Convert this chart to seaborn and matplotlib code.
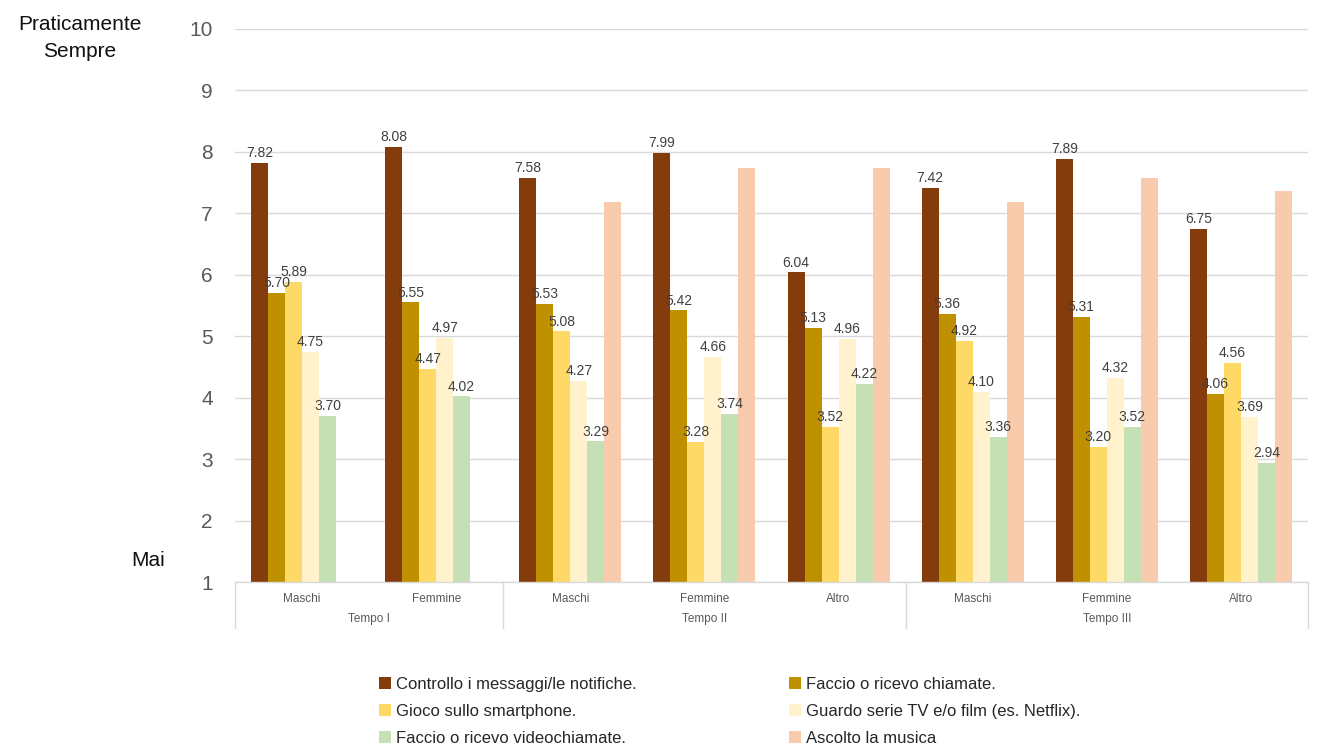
import numpy as np
import pandas as pd
import matplotlib
matplotlib.use("Agg")
import matplotlib.pyplot as plt
import matplotlib.transforms as mtransforms
from matplotlib import font_manager
import seaborn as sns

# ---- data ----
groups = ["Tempo I", "Tempo I", "Tempo II", "Tempo II", "Tempo II", "Tempo III", "Tempo III", "Tempo III"]
subgroups = ["Maschi", "Femmine", "Maschi", "Femmine", "Altro", "Maschi", "Femmine", "Altro"]
series = [
    "Controllo i messaggi/le notifiche.",
    "Faccio o ricevo chiamate.",
    "Gioco sullo smartphone.",
    "Guardo serie TV e/o film (es. Netflix).",
    "Faccio o ricevo videochiamate.",
    "Ascolto la musica",
]
controllo = [7.82, 8.08, 7.58, 7.99, 6.04, 7.42, 7.89, 6.75]
chiamate = [5.70, 5.55, 5.53, 5.42, 5.13, 5.36, 5.31, 4.06]
gioco = [5.89, 4.47, 5.08, 3.28, 3.52, 4.92, 3.20, 4.56]
guardo = [4.75, 4.97, 4.27, 4.66, 4.96, 4.10, 4.32, 3.69]
video = [3.70, 4.02, 3.29, 3.74, 4.22, 3.36, 3.52, 2.94]
musica = [np.nan, np.nan, 7.18, 7.74, 7.74, 7.18, 7.57, 7.36]
colors = ["#843C0C", "#BF9000", "#FFD966", "#FFF2CC", "#C5E0B4", "#F8CBAD"]

values = [controllo, chiamate, gioco, guardo, video, musica]
cat_keys = [f"{s}|{g}" for s, g in zip(subgroups, groups)]
rows = []
for name, vals in zip(series, values):
    for k, v in zip(cat_keys, vals):
        rows.append({"cat": k, "serie": name, "val": v})
df = pd.DataFrame(rows)

# ---- style ----
sns.set_style("white")
avail = {f.name for f in font_manager.fontManager.ttflist}
base = "Liberation Sans" if "Liberation Sans" in avail else "DejaVu Sans"
narrow = "Liberation Sans Narrow" if "Liberation Sans Narrow" in avail else base
plt.rcParams["font.family"] = [base, "DejaVu Sans"]

W, H = 1328, 754
fig = plt.figure(figsize=(W / 100, H / 100), dpi=100)
ax_left, ax_right, ax_top, ax_bot = 235, 1308, 29, 582
ax = fig.add_axes([ax_left / W, 1 - ax_bot / H, (ax_right - ax_left) / W, (ax_bot - ax_top) / H])

sns.barplot(data=df, x="cat", y="val", hue="serie", order=cat_keys, hue_order=series,
            palette=colors, width=0.76, linewidth=0, saturation=1, errorbar=None, ax=ax)

ax.set_ylim(1, 10)
ax.set_xlim(-0.5, len(cat_keys) - 0.5)
ax.set_yticks(range(1, 11))
ax.yaxis.grid(True, color="#d9d9d9", linewidth=1)
ax.set_axisbelow(True)
for s in ["left", "right", "top"]:
    ax.spines[s].set_visible(False)
ax.spines["bottom"].set_color("#d9d9d9")
ax.spines["bottom"].set_linewidth(1)
ax.tick_params(axis="y", length=0, pad=16, labelsize=15, labelcolor="#595959")
ax.tick_params(axis="x", length=0, pad=8, labelsize=8.5, labelcolor="#595959")
ax.set_xticks(range(len(cat_keys)))
ax.set_xticklabels(subgroups, fontfamily=narrow)
ax.set_xlabel("")
ax.set_ylabel("")

# bar labels (no labels for music)
for i, cont in enumerate(ax.containers[:5]):
    ax.bar_label(cont, fmt="%.2f", padding=2, fontsize=10, color="#404040")

# group labels and separators
trans = mtransforms.blended_transform_factory(ax.transData, ax.transAxes)
bounds = []
start = 0
for i in range(1, len(groups) + 1):
    if i == len(groups) or groups[i] != groups[i - 1]:
        bounds.append((start, i - 1, groups[start]))
        start = i
sep_y = -(628 - 582) / (582 - 29)
for a, b, name in bounds:
    ax.text((a + b) / 2, -(619 - 582) / (582 - 29), name, transform=trans, ha="center", va="center",
            fontsize=8.5, color="#595959", fontfamily=narrow)
edges = [bounds[0][0] - 0.5] + [b + 0.5 for a, b, _ in bounds]
for e in edges:
    ax.plot([e, e], [0, sep_y], transform=trans, color="#d9d9d9", linewidth=1, clip_on=False)

# side labels
fig.text(80 / W, 1 - 38 / H, "Praticamente\nSempre", ha="center", va="center", fontsize=15,
         color="#111111", linespacing=1.5)
fig.text(148 / W, 1 - 560 / H, "Mai", ha="center", va="center", fontsize=15, color="#111111")

# legend: two columns placed explicitly
handles, labels = ax.get_legend_handles_labels()
ax.legend_.remove()
leg_kw = dict(loc="upper left", frameon=False, borderpad=0, borderaxespad=0,
              handlelength=0.7, handleheight=0.7, handletextpad=0.35,
              labelspacing=0.72, prop={"family": narrow, "size": 12}, labelcolor="#262626")
col1 = [0, 2, 4]
col2 = [1, 3, 5]
fig.legend([handles[i] for i in col1], [labels[i] for i in col1],
           bbox_to_anchor=(379 / W, 1 - 677 / H), **leg_kw)
fig.legend([handles[i] for i in col2], [labels[i] for i in col2],
           bbox_to_anchor=(789 / W, 1 - 677 / H), **leg_kw)

fig.savefig("out.png", dpi=100)
